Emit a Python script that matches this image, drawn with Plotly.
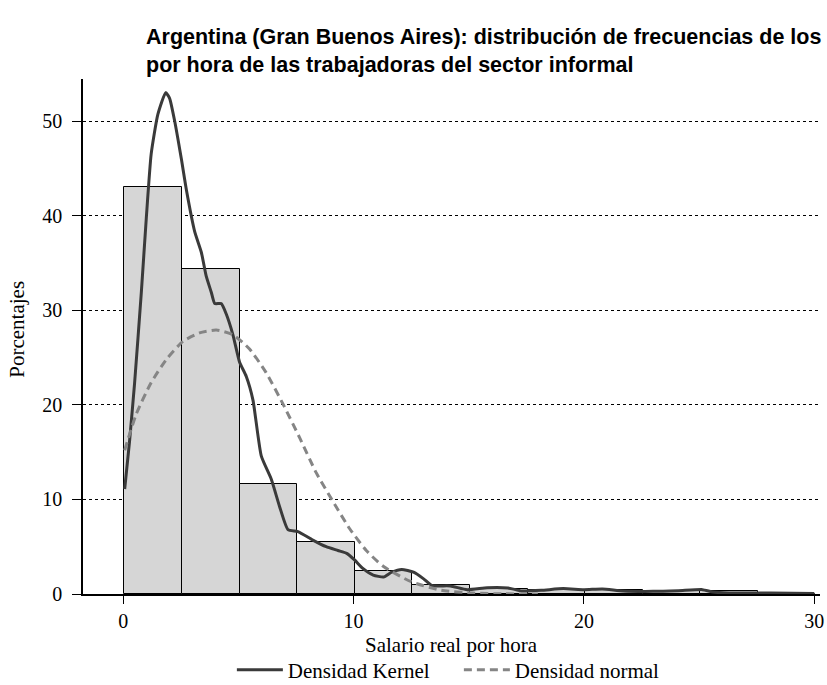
import plotly.graph_objects as go

# Histogram bins (left edges) and percentages
bin_left = [0.05, 2.55, 5.05, 7.55, 10.05, 12.55, 15.05, 17.55, 20.05, 22.55, 25.05, 27.55]
bin_width = 2.5
bar_pct = [43.0, 34.4, 11.6, 5.5, 2.4, 0.9, 0.5, 0.4, 0.45, 0.3, 0.3, 0.05]

# Kernel density (percent scale)
kernel_x = [0.06, 0.27, 0.49, 0.78, 1.0, 1.21, 1.5, 1.84, 2.01, 2.23, 2.52, 2.74, 3.1, 3.39,
            3.6, 3.82, 3.97, 4.25, 4.47, 4.76, 5.05, 5.34, 5.63, 5.99, 6.43, 6.79, 7.15, 7.58,
            8.23, 8.81, 9.32, 9.7, 10.04, 10.4, 10.85, 11.3, 11.65, 12.09, 12.6, 13.04, 13.4,
            14.2, 14.93, 15.8, 16.7, 17.3, 18.15, 19.1, 20.0, 20.8, 21.7, 23.0, 24.1, 25.15,
            25.6, 26.3, 28.1, 30.0]
kernel_y = [11.1, 16.1, 22.3, 31.8, 39.8, 46.5, 50.7, 53.0, 52.4, 50.0, 46.0, 42.7, 38.3, 36.1,
            33.6, 31.9, 30.7, 30.7, 29.6, 27.4, 24.5, 23.0, 20.5, 14.6, 12.1, 9.2, 6.8, 6.6,
            5.7, 5.0, 4.6, 4.3, 3.6, 2.7, 2.0, 1.8, 2.3, 2.6, 2.3, 1.6, 0.9,
            0.85, 0.46, 0.67, 0.64, 0.32, 0.39, 0.57, 0.46, 0.53, 0.32, 0.28, 0.35, 0.46,
            0.21, 0.1, 0.1, 0.04]

# Normal density (percent scale)
normal_x = [0.06, 0.56, 1.2, 1.87, 2.59, 3.31, 4.04, 4.76, 5.48, 6.2, 6.93, 7.66, 8.38, 9.1,
            9.83, 10.55, 11.3, 12.5, 13.8, 15.2, 16.5, 18.0]
normal_y = [15.2, 19.0, 22.3, 24.8, 26.7, 27.6, 27.9, 27.4, 25.9, 23.4, 20.1, 16.5, 12.8, 9.8,
            6.9, 4.6, 2.9, 1.3, 0.4, 0.1, 0.02, 0.0]

y_ticks = [0, 10, 20, 30, 40, 50]
x_ticks = [0, 10, 20, 30]

title_text = ("<b>Argentina (Gran Buenos Aires): distribución de frecuencias de los<br>"
              "por hora de las trabajadoras del sector informal</b>")

serif = "Liberation Serif, Times New Roman, serif"

fig = go.Figure()
fig.add_trace(go.Bar(
    x=[b + bin_width / 2 for b in bin_left], y=bar_pct, width=[bin_width] * len(bin_left),
    marker=dict(color="#d6d6d6", line=dict(color="black", width=1)),
    showlegend=False, hoverinfo="skip"))
fig.add_trace(go.Scatter(
    x=kernel_x, y=kernel_y, mode="lines", name="Densidad Kernel",
    line=dict(color="#3a3a3a", width=3, shape="spline", smoothing=0.5)))
fig.add_trace(go.Scatter(
    x=normal_x, y=normal_y, mode="lines", name="Densidad normal",
    line=dict(color="#858585", width=3, dash="8px,5px", shape="spline", smoothing=0.6)))

fig.update_layout(
    width=827, height=685,
    margin=dict(l=83, r=7, t=79, b=91, autoexpand=False),
    paper_bgcolor="white", plot_bgcolor="white",
    font=dict(family=serif, size=20, color="black"),
    title=dict(text=title_text, x=146 / 827, xanchor="left", xref="container",
               y=1 - 44 / 685, yanchor="top", yref="container",
               font=dict(family="Liberation Sans, Arial, sans-serif", size=21.5, color="black")),
    xaxis=dict(range=[-1.75, 30.25], tickvals=x_ticks, ticks="outside", ticklen=8,
               tickcolor="black", tickwidth=1.2, showline=True, linecolor="black", linewidth=1.5,
               showgrid=False, zeroline=False, tickfont=dict(family=serif, size=20),
               ticklabelstandoff=0, ticklabeloverflow="allow", automargin=False),
    yaxis=dict(range=[0, 54.44], tickvals=y_ticks, ticks="outside", ticklen=9,
               tickcolor="black", tickwidth=1.2, showline=True, linecolor="black", linewidth=1.5,
               showgrid=True, gridcolor="black", gridwidth=0.8, griddash="3px,3px",
               zeroline=False, tickfont=dict(family=serif, size=20),
               ticklabelstandoff=6, automargin=False),
    legend=dict(orientation="h", x=0.202, xanchor="left", xref="paper",
                y=1 - 670 / 685, yanchor="middle", yref="container",
                font=dict(family=serif, size=21), bgcolor="rgba(0,0,0,0)",
                itemwidth=46, entrywidth=166, entrywidthmode="pixels"),
    annotations=[
        dict(text="Salario real por hora", x=0.5, y=-0.099, xref="paper", yref="paper",
             xanchor="center", yanchor="middle", showarrow=False,
             font=dict(family=serif, size=21)),
        dict(text="Porcentajes", x=-0.0896, y=0.515, xref="paper", yref="paper",
             xanchor="center", yanchor="middle", textangle=-90, showarrow=False,
             font=dict(family=serif, size=21)),
    ],
    bargap=0,
)

fig.write_html("out.html", config={"displayModeBar": False},
               post_script="document.body.style.margin='0';")
